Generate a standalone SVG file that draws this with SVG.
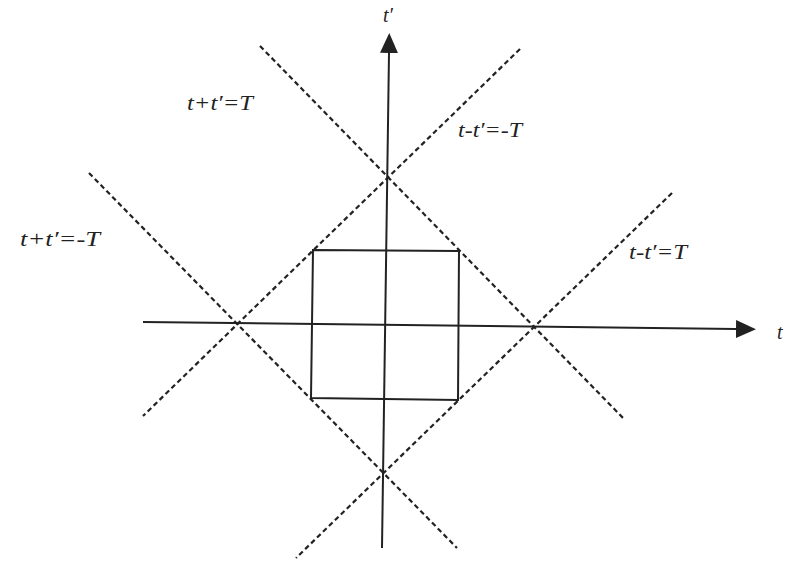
<svg xmlns="http://www.w3.org/2000/svg" width="799" height="563" viewBox="0 0 799 563">
<style>
.axis{stroke:#222;stroke-width:2;fill:none}
.dash{stroke:#222;stroke-width:2.2;stroke-dasharray:5 3.3;fill:none}
.box{stroke:#222;stroke-width:2;fill:none}
.lbl{font-family:"Liberation Serif",serif;font-style:italic;font-size:20px;fill:#222}
</style>
<defs>
<marker id="arr" viewBox="0 0 20 18" refX="0" refY="9" markerWidth="20" markerHeight="18" markerUnits="userSpaceOnUse" orient="auto">
<path d="M0,0 L20,9 L0,18 Z" fill="#222"/>
</marker>
</defs>
<rect width="799" height="563" fill="#fff"/>
<g id="connectors">
<line class="axis" x1="143" y1="322" x2="736" y2="329" marker-end="url(#arr)"/>
<line class="axis" x1="382" y1="548" x2="389" y2="53" marker-end="url(#arr)"/>
<line class="dash" x1="260" y1="46" x2="625" y2="420"/>
<line class="dash" x1="89" y1="173" x2="457" y2="548"/>
<line class="dash" x1="520" y1="49" x2="143" y2="416"/>
<line class="dash" x1="672" y1="193" x2="296" y2="558"/>
</g>
<g id="square">
<polygon class="box" points="313,250 459,251 458,400 311,398"/>
</g>
<g id="labels">
<text class="lbl" x="383" y="22" font-size="18">t′</text>
<text class="lbl" x="777" y="339" font-size="18">t</text>
<text class="lbl" x="187" y="110" textLength="66" lengthAdjust="spacingAndGlyphs">t+t′=T</text>
<text class="lbl" x="20" y="246" textLength="80" lengthAdjust="spacingAndGlyphs">t+t′=-T</text>
<text class="lbl" x="458" y="137" textLength="64" lengthAdjust="spacingAndGlyphs">t-t′=-T</text>
<text class="lbl" x="629" y="259" textLength="58" lengthAdjust="spacingAndGlyphs">t-t′=T</text>
</g>
</svg>
